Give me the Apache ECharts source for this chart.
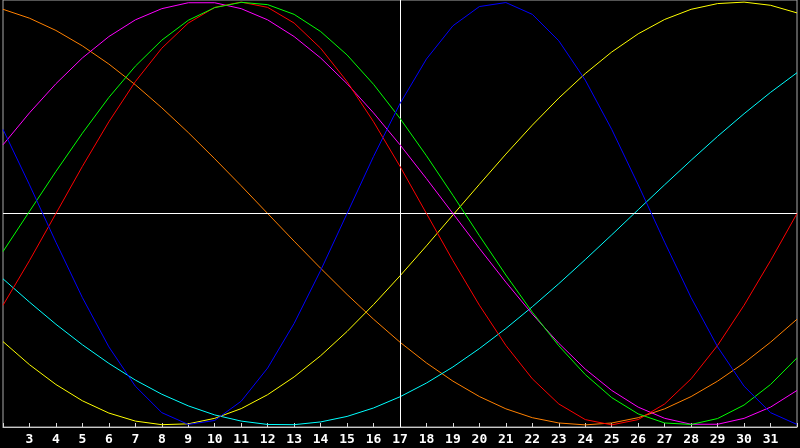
<!DOCTYPE html>
<html>
<head>
<meta charset="utf-8">
<script src="https://cdn.jsdelivr.net/npm/echarts@6/dist/echarts.min.js"></script>
<style>
html,body{margin:0;padding:0;background:#000;}
#c{width:800px;height:448px;}
</style>
</head>
<body>
<div id="c"></div>
<script>
var days = [2,3,4,5,6,7,8,9,10,11,12,13,14,15,16,17,18,19,20,21,22,23,24,25,26,27,28,29,30,31,32];
var blue = [0.398,0.136,-0.136,-0.398,-0.631,-0.817,-0.942,-0.998,-0.979,-0.888,-0.731,-0.520,-0.270,0.000,0.270,0.520,0.731,0.888,0.979,0.998,0.942,0.817,0.631,0.398,0.136,-0.136,-0.398,-0.631,-0.817,-0.942,-0.998];
var red = [-0.434,-0.223,0.000,0.223,0.434,0.624,0.782,0.901,0.975,1.000,0.975,0.901,0.782,0.624,0.434,0.223,0.000,-0.223,-0.434,-0.624,-0.782,-0.901,-0.975,-1.000,-0.975,-0.901,-0.782,-0.624,-0.434,-0.223,0.000];
var green = [-0.180,0.010,0.199,0.380,0.549,0.697,0.820,0.914,0.974,0.999,0.988,0.942,0.861,0.750,0.611,0.450,0.273,0.086,-0.105,-0.291,-0.467,-0.626,-0.762,-0.871,-0.948,-0.991,-0.998,-0.970,-0.906,-0.809,-0.683];
var magenta = [0.325,0.476,0.614,0.736,0.837,0.916,0.969,0.997,0.997,0.969,0.916,0.837,0.736,0.614,0.476,0.325,0.165,0.000,-0.165,-0.325,-0.476,-0.614,-0.736,-0.837,-0.916,-0.969,-0.997,-0.997,-0.969,-0.916,-0.837];
var yellow = [-0.606,-0.715,-0.809,-0.886,-0.944,-0.982,-0.999,-0.995,-0.969,-0.923,-0.857,-0.773,-0.673,-0.558,-0.431,-0.295,-0.153,-0.007,0.138,0.281,0.418,0.546,0.662,0.764,0.850,0.918,0.966,0.993,1.000,0.985,0.949];
var cyan = [-0.309,-0.419,-0.524,-0.621,-0.709,-0.788,-0.855,-0.910,-0.953,-0.982,-0.998,-0.999,-0.986,-0.960,-0.920,-0.867,-0.802,-0.726,-0.639,-0.544,-0.441,-0.332,-0.218,-0.101,0.018,0.136,0.252,0.365,0.472,0.573,0.666];
var orange = [0.966,0.924,0.866,0.793,0.707,0.609,0.500,0.383,0.259,0.131,0.000,-0.131,-0.259,-0.383,-0.500,-0.609,-0.707,-0.793,-0.866,-0.924,-0.966,-0.991,-1.000,-0.991,-0.966,-0.924,-0.866,-0.793,-0.707,-0.609,-0.500];
var markDay = '17';

var chart = echarts.init(document.getElementById('c'), null, {renderer:'canvas'});
function mk(data, color, z) {
  return {type:'line', data:data, symbol:'none', smooth:false, z:z,
    lineStyle:{color:color, width:1}, itemStyle:{color:color}};
}
var series = [
  mk(orange,'#ff8000',2),
  mk(cyan,'#00ffff',3),
  mk(yellow,'#ffff00',4),
  mk(magenta,'#ff00ff',5),
  mk(red,'#ff0000',6),
  mk(green,'#00ff00',7),
  mk(blue,'#0000ff',8)
];
series[0].markLine = {
  silent:true, symbol:['none','none'], label:{show:false},
  lineStyle:{color:'#ffffff', width:1, type:'solid'},
  data:[{yAxis:0},{xAxis:markDay}]
};
chart.setOption({
  backgroundColor:'#000000',
  animation:false,
  grid:{left:0, right:1, top:0, bottom:21, show:true, borderColor:'#a8a8a8', borderWidth:1, backgroundColor:'#000000'},
  xAxis:{
    type:'category', data:days.map(String), boundaryGap:false,
    axisLine:{show:true, onZero:false, lineStyle:{color:'#c8c8c8', width:1}},
    axisTick:{show:true, inside:true, length:4, interval:0, lineStyle:{color:'#d8d8d8'}},
    axisLabel:{show:true, interval:0, color:'#ffffff', fontFamily:'DejaVu Sans Mono', fontWeight:'bold', fontSize:13, margin:6,
      formatter:function(v){ return (v==='2'||v==='32')?'':v; }},
    splitLine:{show:false}
  },
  yAxis:{type:'value', min:-1.01, max:1.01, show:false, splitLine:{show:false}},
  series:series
});
</script>
</body>
</html>
